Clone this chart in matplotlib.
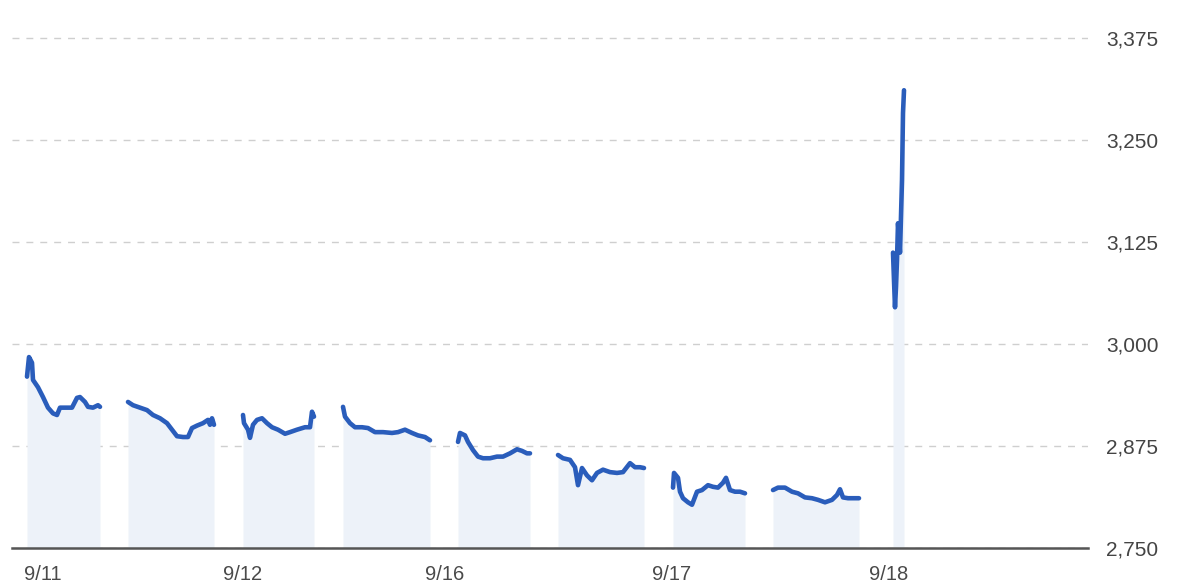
import matplotlib
matplotlib.use("Agg")
import matplotlib.pyplot as plt
from matplotlib.ticker import FuncFormatter

plt.rcParams['font.family'] = ['Liberation Sans', 'DejaVu Sans']

# Trading-time index (x) and price for each session
s1_x = [27, 29, 32, 33, 38, 43, 48, 53, 57, 60, 67, 72, 77, 80, 85, 88, 93, 98, 100]
s1_p = [2960, 2984, 2977, 2956, 2947, 2935, 2922, 2915, 2913, 2922, 2922, 2922, 2934, 2935, 2929, 2923, 2922, 2925, 2923]

s2_x = [128, 133, 140, 147, 153, 160, 167, 172, 177, 183, 188, 192, 197, 203, 208, 210, 212, 214]
s2_p = [2929, 2925, 2922, 2919, 2913, 2909, 2903, 2895, 2887, 2886, 2886, 2897, 2900, 2903, 2907, 2901, 2909, 2901]

s3_x = [243, 244, 248, 250, 253, 257, 262, 267, 272, 278, 285, 290, 297, 305, 310, 312, 314]
s3_p = [2913, 2903, 2895, 2885, 2901, 2907, 2909, 2903, 2898, 2895, 2890, 2892, 2895, 2898, 2898, 2917, 2911]

s4_x = [343, 345, 350, 355, 362, 368, 375, 383, 392, 398, 405, 412, 418, 425, 430]
s4_p = [2923, 2911, 2903, 2898, 2898, 2897, 2892, 2892, 2891, 2892, 2895, 2891, 2888, 2886, 2882]

s5_x = [458, 460, 465, 468, 473, 478, 483, 490, 497, 503, 510, 517, 522, 527, 530]
s5_p = [2880, 2891, 2888, 2880, 2870, 2862, 2860, 2860, 2862, 2862, 2866, 2871, 2869, 2866, 2866]

s6_x = [558, 563, 570, 575, 578, 582, 587, 592, 597, 603, 610, 617, 623, 630, 635, 640, 644]
s6_p = [2864, 2860, 2858, 2849, 2827, 2848, 2839, 2833, 2842, 2846, 2843, 2842, 2843, 2854, 2849, 2849, 2848]

s7_x = [673, 674, 678, 680, 683, 688, 692, 697, 702, 708, 713, 718, 723, 726, 730, 735, 740, 745]
s7_p = [2824, 2842, 2836, 2819, 2811, 2806, 2803, 2819, 2821, 2827, 2825, 2824, 2830, 2836, 2821, 2819, 2819, 2817]

s8_x = [773, 778, 785, 792, 798, 805, 812, 818, 825, 832, 837, 840, 843, 848, 855, 859]
s8_p = [2821, 2824, 2824, 2819, 2817, 2812, 2811, 2809, 2806, 2809, 2815, 2822, 2812, 2811, 2811, 2811]

s9_x = [893, 894, 895, 896, 897, 898, 900, 902, 903, 904]
s9_p = [3112, 3078, 3045, 3070, 3103, 3148, 3112, 3201, 3283, 3311]

sessions = [(s1_x, s1_p), (s2_x, s2_p), (s3_x, s3_p), (s4_x, s4_p), (s5_x, s5_p),
            (s6_x, s6_p), (s7_x, s7_p), (s8_x, s8_p), (s9_x, s9_p)]

tick_pos = [43, 243, 445, 672, 889]
tick_labels = ["9/11", "9/12", "9/16", "9/17", "9/18"]
y_ticks = [2750, 2875, 3000, 3125, 3250, 3375]

LINE = "#2a5dbb"
FILL = "#edf2f9"

fig = plt.figure(figsize=(12, 5.88), dpi=100)
ax = fig.add_axes([12 / 1200, 1 - 548 / 588, (1088 - 12) / 1200, 548 / 588])

base = 2750
for xs, ps in sessions:
    ax.fill_between(xs, base, ps, color=FILL, linewidth=0, zorder=1)
    ax.plot(xs, ps, color=LINE, lw=3.3, solid_joinstyle='round', solid_capstyle='round', zorder=3)

ax.set_xlim(12, 1088)
ax.set_ylim(2750, 3421.6)

ax.set_yticks(y_ticks)
ax.yaxis.set_major_formatter(FuncFormatter(lambda v, p: f"{int(v):,}"))
ax.yaxis.tick_right()
ax.tick_params(axis='y', length=0, pad=13, labelsize=15, labelcolor="#444444")
ax.set_xticks(tick_pos)
ax.set_xticklabels(tick_labels)
ax.tick_params(axis='x', length=0, pad=12, labelsize=14.5, labelcolor="#4a4a4a")

ax.grid(axis='y', color="#cfcfcf", linestyle=(0, (5, 5)), linewidth=1.0, zorder=0)
ax.set_axisbelow(True)

for s in ['top', 'right', 'left']:
    ax.spines[s].set_visible(False)
ax.spines['bottom'].set_color("#555555")
ax.spines['bottom'].set_linewidth(1.8)
ax.spines['bottom'].set_zorder(4)

fig.savefig("out.png", dpi=100)
